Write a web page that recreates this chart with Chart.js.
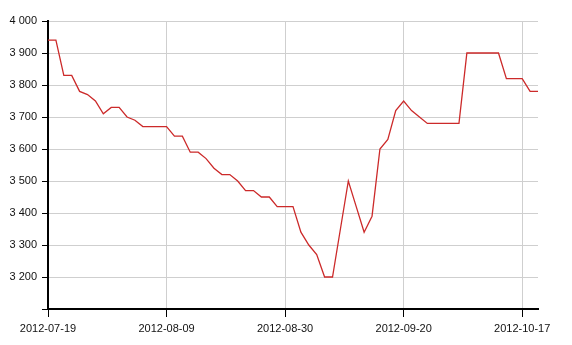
<!DOCTYPE html>
<html>
<head>
<meta charset="utf-8">
<script src="https://cdn.jsdelivr.net/npm/chart.js@4.4.0/dist/chart.umd.min.js"></script>
<style>
  html, body { margin: 0; padding: 0; background: #fff; }
  #wrap { width: 572px; height: 345px; }
</style>
</head>
<body>
<div id="wrap"><canvas id="priceChart" width="572" height="345"></canvas></div>
<script>
// trading days (Oct 1-7 holiday, 29 Sep worked)
const dates = [
  '2012-07-19', '2012-07-20', '2012-07-23', '2012-07-24', '2012-07-25', '2012-07-26', '2012-07-27',
  '2012-07-30', '2012-07-31', '2012-08-01', '2012-08-02', '2012-08-03', '2012-08-06', '2012-08-07',
  '2012-08-08', '2012-08-09', '2012-08-10', '2012-08-13', '2012-08-14', '2012-08-15', '2012-08-16',
  '2012-08-17', '2012-08-20', '2012-08-21', '2012-08-22', '2012-08-23', '2012-08-24', '2012-08-27',
  '2012-08-28', '2012-08-29', '2012-08-30', '2012-08-31', '2012-09-03', '2012-09-04', '2012-09-05',
  '2012-09-06', '2012-09-07', '2012-09-10', '2012-09-11', '2012-09-12', '2012-09-13', '2012-09-14',
  '2012-09-17', '2012-09-18', '2012-09-19', '2012-09-20', '2012-09-21', '2012-09-24', '2012-09-25',
  '2012-09-26', '2012-09-27', '2012-09-28', '2012-09-29', '2012-10-08', '2012-10-09', '2012-10-10',
  '2012-10-11', '2012-10-12', '2012-10-15', '2012-10-16', '2012-10-17', '2012-10-18', '2012-10-19'
];

const prices = [
  3940, 3940, 3830, 3830, 3780, 3770, 3750,
  3710, 3730, 3730, 3700, 3690, 3670, 3670,
  3670, 3670, 3640, 3640, 3590, 3590, 3570,
  3540, 3520, 3520, 3500, 3470, 3470, 3450,
  3450, 3420, 3420, 3420, 3340, 3300, 3270,
  3200, 3200, 3350, 3500, 3420, 3340, 3390,
  3600, 3630, 3720, 3750, 3720, 3700, 3680,
  3680, 3680, 3680, 3680, 3900, 3900, 3900,
  3900, 3900, 3820, 3820, 3820, 3780, 3780
];

// dates that get a label on the x axis
const xTickDates = ['2012-07-19', '2012-08-09', '2012-08-30', '2012-09-20', '2012-10-17'];

const yMin = 3100;
const yMax = 4000;
const yStep = 100;

// "4000" -> "4 000"
function fmtThousands(v) {
  return String(v).replace(/\B(?=(\d{3})+(?!\d))/g, ' ');
}

const ctx = document.getElementById('priceChart').getContext('2d');

new Chart(ctx, {
  type: 'line',
  data: {
    labels: dates,
    datasets: [{
      data: prices,
      borderColor: '#cc2a2a',
      borderWidth: 1.3,
      pointRadius: 0,
      tension: 0,
      fill: false
    }]
  },
  options: {
    responsive: false,
    animation: false,
    layout: { padding: { left: 0, top: 21, right: 34, bottom: 0 } },
    plugins: {
      legend: { display: false },
      tooltip: { enabled: false }
    },
    scales: {
      x: {
        type: 'category',
        offset: false,
        afterBuildTicks: (scale) => {
          scale.ticks = scale.ticks.filter(t => xTickDates.includes(dates[t.value]));
        },
        afterFit: (scale) => { scale.height = 36; },
        ticks: {
          autoSkip: false,
          maxRotation: 0,
          padding: 5,
          color: '#111',
          font: { family: 'Liberation Sans, Arial, sans-serif', size: 11 }
        },
        grid: {
          color: '#cfcfcf',
          tickColor: '#000',
          tickLength: 8,
          lineWidth: 1
        },
        border: { color: '#000', width: 2 }
      },
      y: {
        min: yMin,
        max: yMax,
        afterFit: (scale) => { scale.width = 48; },
        ticks: {
          stepSize: yStep,
          padding: 5,
          color: '#111',
          font: { family: 'Liberation Sans, Arial, sans-serif', size: 11 },
          callback: (v) => v === yMin ? '' : fmtThousands(v)
        },
        grid: {
          color: '#cfcfcf',
          tickColor: '#000',
          tickLength: 6,
          lineWidth: 1
        },
        border: { color: '#000', width: 2 }
      }
    }
  }
});
</script>
</body>
</html>
